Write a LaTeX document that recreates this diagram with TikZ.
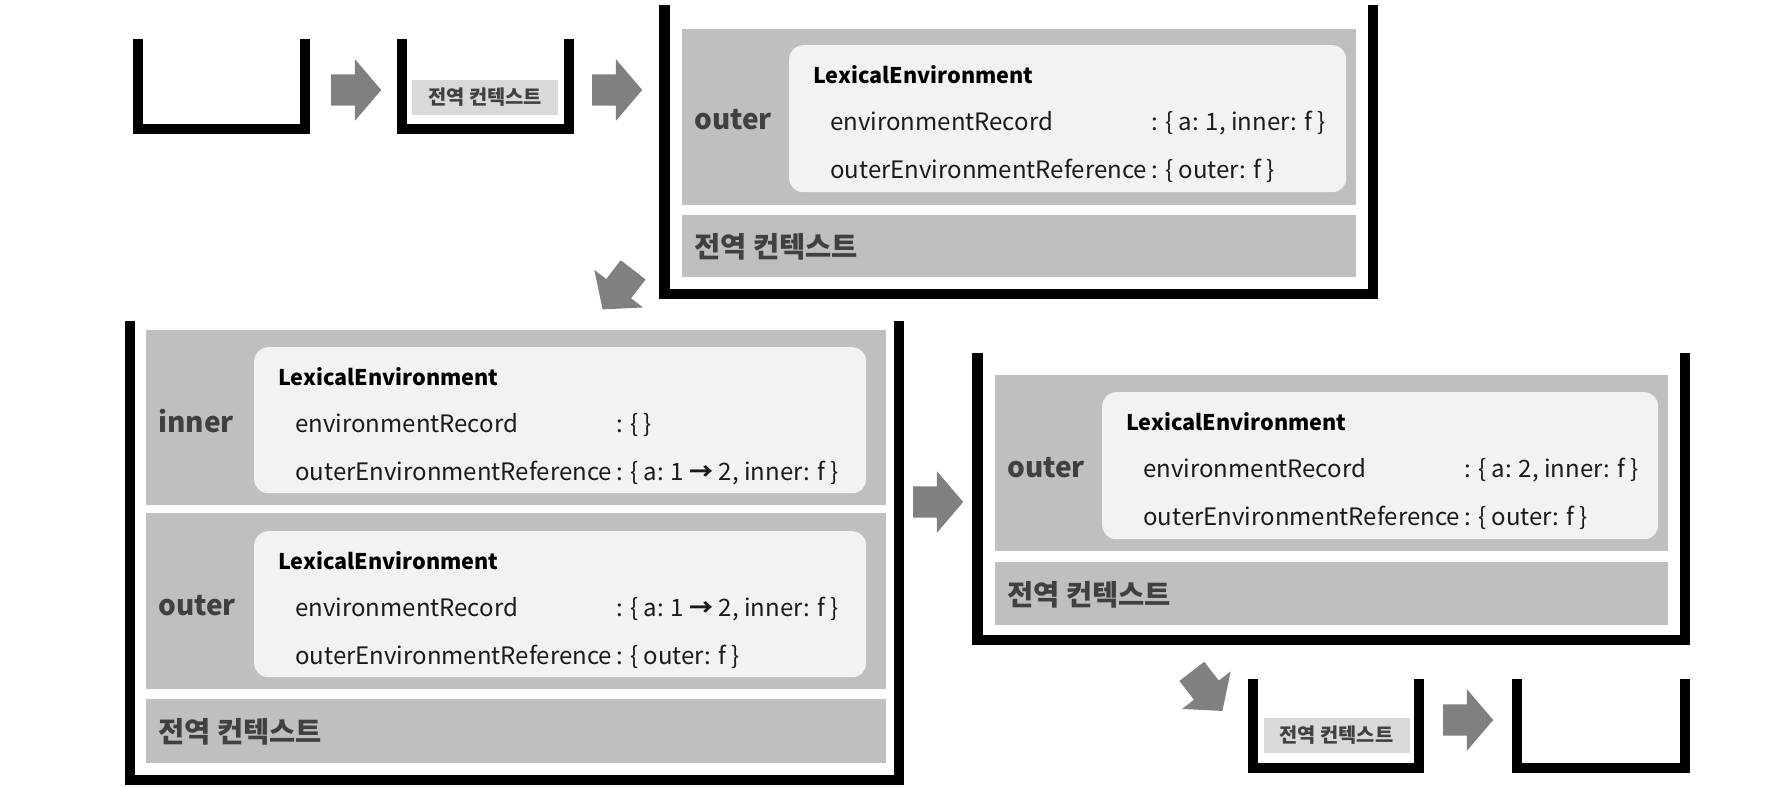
\documentclass[tikz,border=0pt]{standalone}
\usepackage{fontspec}
\setmainfont{Noto Sans CJK KR}
\usetikzlibrary{shapes.arrows}

\definecolor{arrowgray}{HTML}{808080}
\definecolor{envgray}{HTML}{BFBFBF}
\definecolor{recfill}{HTML}{F2F2F2}
\definecolor{ctxlight}{HTML}{D9D9D9}
\definecolor{labeltext}{HTML}{404040}
\definecolor{fieldtext}{HTML}{1A1A1A}

\tikzset{
  wall/.style={line width=10.5pt, line join=miter},
  push/.style={single arrow, fill=arrowgray, inner xsep=0pt, inner ysep=15.5pt, minimum height=50pt,
    single arrow head extend=15pt, single arrow tip angle=99, anchor=tail},
  envbox/.style={fill=envgray, inner sep=0pt, anchor=north west},
  recbox/.style={fill=recfill, rounded corners=14pt, inner sep=0pt, anchor=north west},
  envname/.style={font=\fontsize{28pt}{32pt}\selectfont\bfseries, text=labeltext, anchor=mid west, inner sep=0pt},
  ctxname/.style={font=\fontsize{28.5pt}{32pt}\selectfont\bfseries, text=labeltext, anchor=mid west, inner sep=0pt},
  lextitle/.style={font=\fontsize{21.6pt}{25pt}\selectfont\bfseries, anchor=mid west, inner sep=0pt},
  field/.style={font=\fontsize{24pt}{28pt}\selectfont, text=fieldtext, anchor=mid west, inner sep=0pt},
  smallctx/.style={fill=ctxlight, inner sep=0pt, minimum width=146pt, minimum height=35pt,
    font=\fontsize{19.8pt}{22pt}\selectfont\bfseries, text=labeltext}
}

% white LexicalEnvironment box: name, north west corner, width, height, record, reference
\newcommand{\lexenv}[6]{%
  \node[recbox, minimum width=#3, minimum height=#4] (#1) at #2 {};
  \node[lextitle] (#1-title) at ([xshift=24pt, yshift=-36pt]#1.north west) {LexicalEnvironment};
  \node[field] (#1-rec) at ([xshift=41pt, yshift=-83pt]#1.north west) {environmentRecord};
  \node[field] (#1-recv) at ([xshift=362pt, yshift=-83pt]#1.north west) {: #5};
  \node[field] (#1-ref) at ([xshift=41pt, yshift=-130.5pt]#1.north west) {outerEnvironmentReference};
  \node[field] (#1-refv) at ([xshift=362pt, yshift=-130.5pt]#1.north west) {: #6};
}
\newcommand{\changeto}{\textbf{→}}

\begin{document}
\begin{tikzpicture}[x=1pt, y=-1pt]
  \useasboundingbox (0,0) rectangle (1792,787);

  % empty stack
  \draw[wall] (138,39) -- (138,129) -- (305,129) -- (305,39);
  \node[push] (push1) at (331,90) {};

  % global context
  \draw[wall] (402,39) -- (402,129) -- (569,129) -- (569,39);
  \node[smallctx] (ctx1) at (485,97.5) {전역 컨텍스트};
  \node[push] (push2) at (592,90) {};

  % outer called
  \draw[wall] (664.5,5) -- (664.5,294) -- (1373,294) -- (1373,5);
  \node[envbox, minimum width=674pt, minimum height=176pt] (outer1) at (682,29) {};
  \node[envname] (outer1-name) at ([xshift=12pt, yshift=-10pt]outer1.west) {outer};
  \lexenv{outer1-le}{(789,45)}{557pt}{147pt}{\{ a: 1, inner: f \}}{\{ outer: f \}}
  \node[envbox, minimum width=674pt, minimum height=62pt] (global1) at (682,215) {};
  \node[ctxname] (global1-name) at ([xshift=12pt, yshift=-9pt]global1.west) {전역 컨텍스트};
  \node[push, rotate=232.3] (push3) at (633.3,269.7) {};

  % inner called
  \draw[wall] (130,321) -- (130,780) -- (899,780) -- (899,321);
  \node[envbox, minimum width=740pt, minimum height=175pt] (inner2) at (146,330) {};
  \node[envname] (inner2-name) at ([xshift=12pt, yshift=-12pt]inner2.west) {inner};
  \lexenv{inner2-le}{(254,347)}{612pt}{146pt}{\{ \}}{\{ a: 1 \changeto{} 2, inner: f \}}
  \node[envbox, minimum width=740pt, minimum height=176pt] (outer2) at (146,513) {};
  \node[envname] (outer2-name) at ([xshift=12pt, yshift=-12pt]outer2.west) {outer};
  \lexenv{outer2-le}{(254,531)}{612pt}{146pt}{\{ a: 1 \changeto{} 2, inner: f \}}{\{ outer: f \}}
  \node[envbox, minimum width=740pt, minimum height=64pt] (global2) at (146,699) {};
  \node[ctxname] (global2-name) at ([xshift=12pt, yshift=-9pt]global2.west) {전역 컨텍스트};
  \node[push] (push4) at (913,502) {};

  % inner done
  \draw[wall] (977.5,353) -- (977.5,640) -- (1685,640) -- (1685,353);
  \node[envbox, minimum width=673pt, minimum height=176pt] (outer3) at (995,375) {};
  \node[envname] (outer3-name) at ([xshift=12pt, yshift=-12pt]outer3.west) {outer};
  \lexenv{outer3-le}{(1102,392)}{556pt}{147pt}{\{ a: 2, inner: f \}}{\{ outer: f \}}
  \node[envbox, minimum width=673pt, minimum height=63pt] (global3) at (995,562) {};
  \node[ctxname] (global3-name) at ([xshift=12pt, yshift=-9pt]global3.west) {전역 컨텍스트};
  \node[push, rotate=-52.3] (push5) at (1191.7,671.2) {};

  % outer done
  \draw[wall] (1253,679) -- (1253,768) -- (1419,768) -- (1419,679);
  \node[smallctx] (ctx2) at (1336.5,735) {전역 컨텍스트};
  \node[push] (push6) at (1443,720) {};

  % empty again
  \draw[wall] (1517,679) -- (1517,768) -- (1685,768) -- (1685,679);
\end{tikzpicture}
\end{document}
